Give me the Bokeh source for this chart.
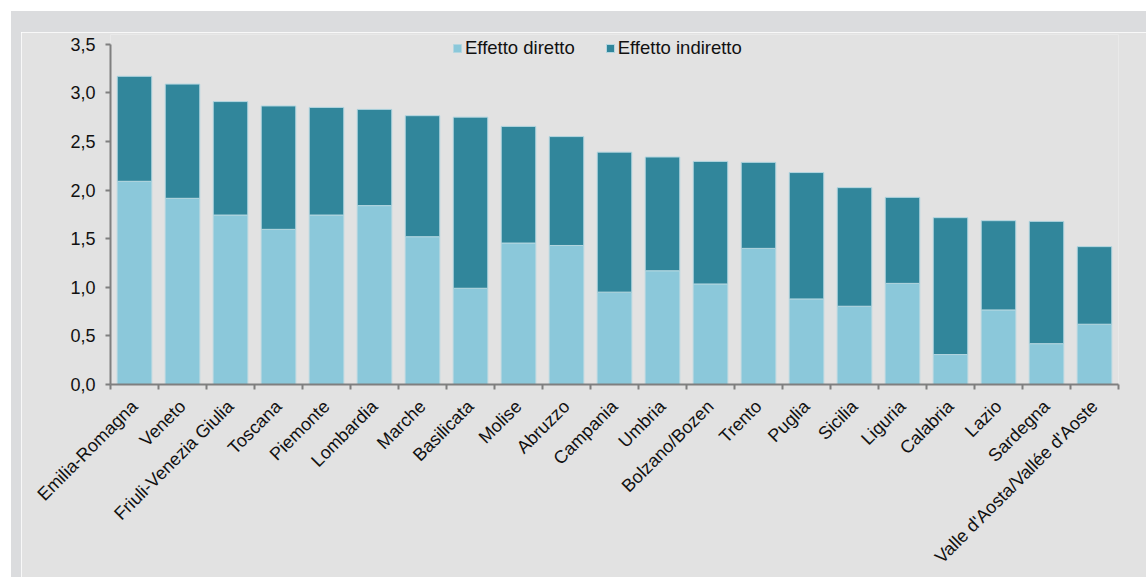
from bokeh.plotting import figure
from bokeh.models import FixedTicker, CustomJSTickFormatter, Div, ColumnDataSource, Range1d
from bokeh.layouts import column, row
from bokeh.embed import file_html
from bokeh.resources import INLINE

regions = ["Emilia-Romagna", "Veneto", "Friuli-Venezia Giulia", "Toscana", "Piemonte",
           "Lombardia", "Marche", "Basilicata", "Molise", "Abruzzo", "Campania", "Umbria",
           "Bolzano/Bozen", "Trento", "Puglia", "Sicilia", "Liguria", "Calabria", "Lazio",
           "Sardegna", "Valle d'Aosta/Vallée d'Aoste"]
totale = [3.17, 3.09, 2.91, 2.865, 2.85, 2.83, 2.765, 2.75, 2.655, 2.55, 2.39, 2.34,
          2.295, 2.285, 2.18, 2.025, 1.925, 1.716, 1.685, 1.678, 1.418]
diretto = [2.09, 1.915, 1.743, 1.596, 1.743, 1.84, 1.52, 0.99, 1.455, 1.43, 0.95, 1.17,
           1.034, 1.40, 0.88, 0.805, 1.04, 0.308, 0.767, 0.42, 0.62]
indiretto = [round(t - d, 3) for t, d in zip(totale, diretto)]
y_ticks = [0.0, 0.5, 1.0, 1.5, 2.0, 2.5, 3.0, 3.5]

FONT = "Liberation Sans"
COL_DIR = "#8BC8DA"
COL_IND = "#31869B"
AXIS = "#7F7F7F"
PANEL = "#E2E2E2"
STRIP = "#DBDCDE"

n = len(regions)
xpos = [i + 0.5 for i in range(n)]
src = ColumnDataSource(dict(x=xpos, diretto=diretto, indiretto=indiretto))

p = figure(width=1125, height=545, output_backend="svg", toolbar_location=None,
           x_range=Range1d(0, n), y_range=Range1d(0, 3.6),
           min_border_left=89, min_border_right=28, min_border_top=2, min_border_bottom=193,
           border_fill_color=PANEL, background_fill_color=PANEL, outline_line_color=None,
           margin=0)

p.vbar_stack(["diretto", "indiretto"], x="x", width=0.72, source=src,
             color=[COL_DIR, COL_IND], line_color="#B3D6E0", line_width=1,
             legend_label=["Effetto diretto", "Effetto indiretto"])

p.xgrid.grid_line_color = None
p.ygrid.grid_line_color = None

# y axis (line limited to 0..3.5)
ya = p.yaxis[0]
ya.bounds = (0, 3.5)
ya.ticker = FixedTicker(ticks=y_ticks)
ya.formatter = CustomJSTickFormatter(code="return tick.toFixed(1).replace('.', ',');")
ya.axis_line_color = AXIS
ya.axis_line_width = 2
ya.major_tick_line_color = AXIS
ya.major_tick_line_width = 2
ya.major_tick_in = 0
ya.major_tick_out = 5
ya.minor_tick_line_color = None
ya.major_label_text_font = FONT
ya.major_label_text_font_size = "18px"
ya.major_label_text_color = "#111111"
ya.major_label_standoff = 10

# x axis: boundary ticks as minor ticks, labels at bar centres (no tick marks)
xa = p.xaxis[0]
xa.ticker = FixedTicker(ticks=xpos, minor_ticks=list(range(n + 1)))
xa.formatter = CustomJSTickFormatter(args=dict(names=regions),
                                     code="return names[Math.floor(tick)];")
xa.axis_line_color = AXIS
xa.axis_line_width = 2
xa.major_tick_line_color = None
xa.major_tick_in = 0
xa.major_tick_out = 0
xa.minor_tick_line_color = AXIS
xa.minor_tick_line_width = 2
xa.minor_tick_in = 0
xa.minor_tick_out = 5
xa.major_label_orientation = 0.785398
xa.major_label_text_font = FONT
xa.major_label_text_font_size = "18px"
xa.major_label_text_color = "#111111"
xa.major_label_standoff = 14

lg = p.legend[0]
lg.orientation = "horizontal"
lg.location = (342, 325)
lg.background_fill_alpha = 0
lg.border_line_alpha = 0
lg.glyph_width = 10
lg.glyph_height = 10
lg.label_height = 20
lg.label_standoff = 3
lg.spacing = 30
lg.padding = 0
lg.margin = 0
lg.label_text_font = FONT
lg.label_text_font_size = "18.5px"
lg.label_text_color = "#111111"

top = Div(text="", width=1135, height=21, margin=0, styles={"background-color": STRIP})
left = Div(text="", width=10, height=545, margin=0, styles={"background-color": STRIP})
layout = column(top, row(left, p, margin=0), margin=(11, 0, 0, 11))

open("out.html", "w").write(file_html(layout, INLINE))
